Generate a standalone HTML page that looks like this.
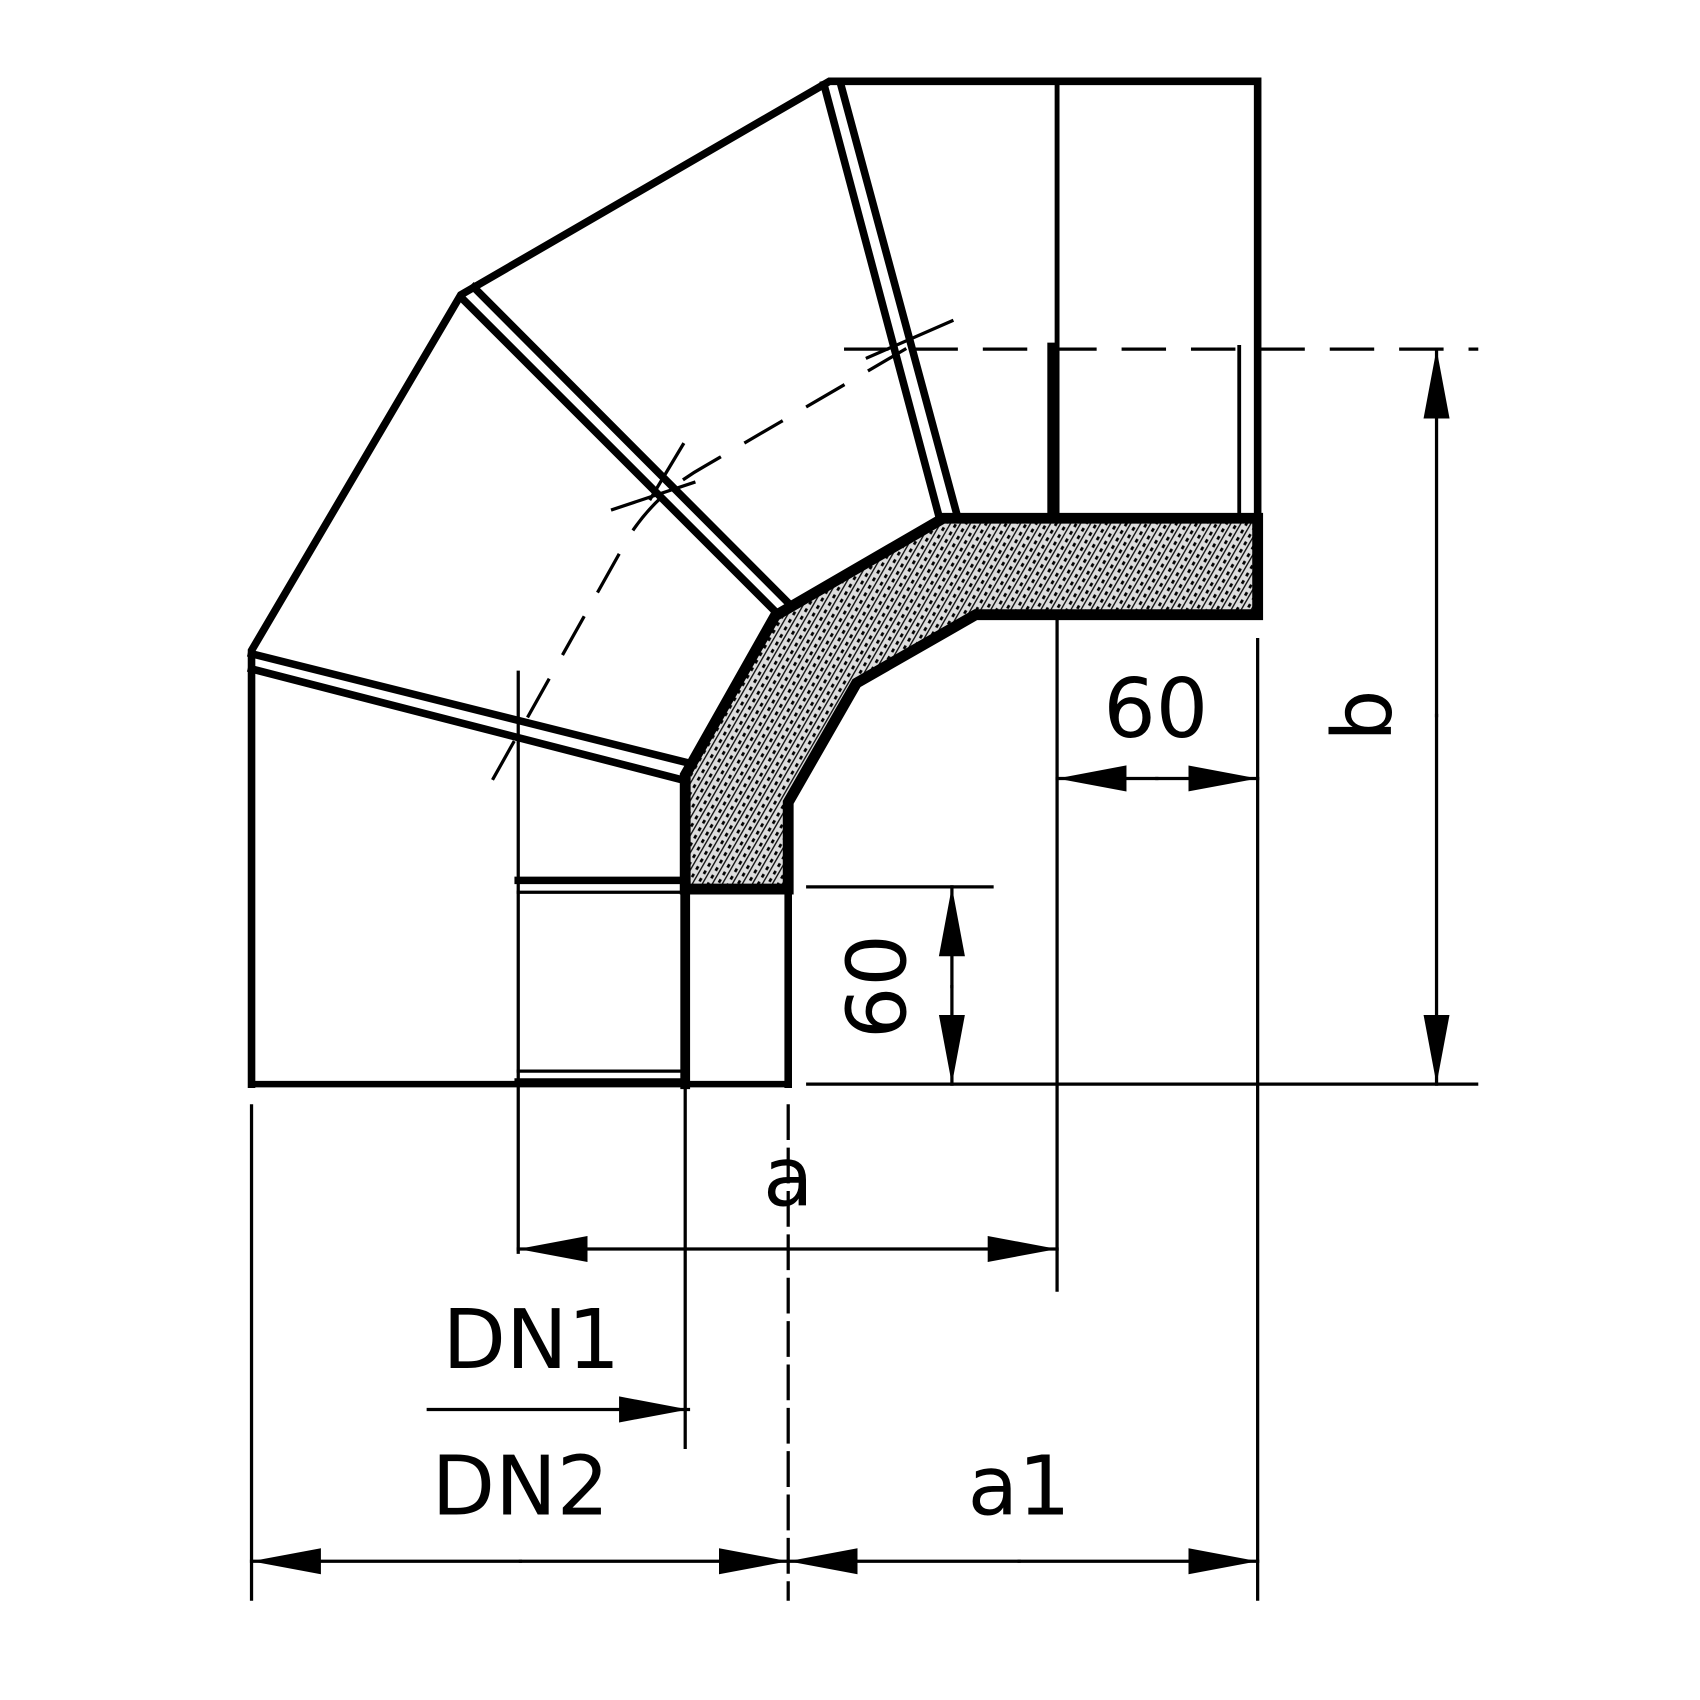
<!DOCTYPE html>
<html><head><style>html,body{margin:0;padding:0;background:#fff}svg{display:block}</style></head>
<body>
<svg width="1700" height="1700" viewBox="0 0 1568 1568" xmlns="http://www.w3.org/2000/svg">
<defs>
<pattern id="h" width="8" height="8" patternUnits="userSpaceOnUse" patternTransform="rotate(30)">
<rect width="8" height="8" fill="#ddd"/>
<line x1="0" y1="0" x2="0" y2="8" stroke="#111" stroke-width="2.5"/>
<rect x="4" y="2" width="2.5" height="3.5" fill="#000"/>
</pattern>
<marker id="ar" markerWidth="66" markerHeight="30" refX="64" refY="15" orient="auto" markerUnits="userSpaceOnUse">
<path d="M0,3 L64,15 L0,27 Z" fill="#000"/></marker>
</defs>
<g fill="none" stroke="#000" stroke-linecap="square">
<path d="M632,820 L632,715 L715,568 L870,478 L1160,478 L1160,567 L900,567 L790,630 L727,740 L727,820 Z" fill="url(#h)" stroke-width="10"/>
<path d="M232,1000 L232,600 L425,272 L765,75 L1160,75 L1160,478" stroke-width="7"/>
<line x1="232" y1="1000" x2="727" y2="1000" stroke-width="6"/>
<line x1="975" y1="75" x2="975" y2="478" stroke-width="4.5"/>
<line x1="232" y1="603" x2="632" y2="703" stroke-width="7"/>
<line x1="232" y1="617" x2="632" y2="720" stroke-width="7"/>
<line x1="425" y1="274" x2="714" y2="563" stroke-width="7"/>
<line x1="437" y1="265" x2="726" y2="555" stroke-width="7"/>
<line x1="760" y1="78" x2="866" y2="476" stroke-width="7"/>
<line x1="775" y1="76" x2="883" y2="476" stroke-width="7"/>
<line x1="632" y1="820" x2="632" y2="1000" stroke-width="9"/>
<line x1="727" y1="820" x2="727" y2="1000" stroke-width="7"/>
<line x1="478" y1="812" x2="632" y2="812" stroke-width="7"/>
<line x1="478" y1="823" x2="632" y2="823" stroke-width="3"/>
<line x1="478" y1="988" x2="632" y2="988" stroke-width="3"/>
<line x1="478" y1="998" x2="632" y2="998" stroke-width="7"/>
<line x1="970" y1="320" x2="970" y2="478" stroke-width="8"/>
<line x1="1143" y1="320" x2="1143" y2="478" stroke-width="3.5"/>
<path d="M455,718 L580,495 Q605,455 650,430 L835,322" stroke-width="3" stroke-dasharray="38,28"/>
<line x1="780" y1="322" x2="1362" y2="322" stroke-width="3" stroke-dasharray="38,26"/>
<line x1="478" y1="620" x2="478" y2="1155" stroke-width="3"/>
<line x1="565" y1="470" x2="640" y2="445" stroke-width="3"/>
<line x1="600" y1="460" x2="630" y2="410" stroke-width="3"/>
<line x1="800" y1="330" x2="878" y2="296" stroke-width="3"/>
<g stroke-width="3">
<line x1="745" y1="1000" x2="1362" y2="1000"/>
<line x1="745" y1="818" x2="915" y2="818"/>
<line x1="975" y1="570" x2="975" y2="1190"/>
<line x1="1160" y1="590" x2="1160" y2="1475"/>
<line x1="232" y1="1020" x2="232" y2="1475"/>
<line x1="727" y1="1020" x2="727" y2="1475" stroke-dasharray="30,10"/>
<line x1="632" y1="1000" x2="632" y2="1335"/>
<line x1="1325" y1="660" x2="1325" y2="322" marker-end="url(#ar)"/>
<line x1="1325" y1="660" x2="1325" y2="1000" marker-end="url(#ar)"/>
<line x1="878" y1="910" x2="878" y2="818" marker-end="url(#ar)"/>
<line x1="878" y1="910" x2="878" y2="1000" marker-end="url(#ar)"/>
<line x1="1067" y1="718" x2="975" y2="718" marker-end="url(#ar)"/>
<line x1="1067" y1="718" x2="1160" y2="718" marker-end="url(#ar)"/>
<line x1="727" y1="1152" x2="478" y2="1152" marker-end="url(#ar)"/>
<line x1="727" y1="1152" x2="975" y2="1152" marker-end="url(#ar)"/>
<line x1="395" y1="1300" x2="635" y2="1300" marker-end="url(#ar)"/>
<line x1="480" y1="1440" x2="232" y2="1440" marker-end="url(#ar)"/>
<line x1="480" y1="1440" x2="727" y2="1440" marker-end="url(#ar)"/>
<line x1="940" y1="1440" x2="727" y2="1440" marker-end="url(#ar)"/>
<line x1="940" y1="1440" x2="1160" y2="1440" marker-end="url(#ar)"/>
</g>
</g>
<g font-family="'DejaVu Sans','Liberation Sans',sans-serif" font-size="76" fill="#000" text-anchor="middle">
<text x="1066" y="680">60</text>
<text x="727" y="1112">a</text>
<text x="490" y="1262">DN1</text>
<text x="480" y="1397">DN2</text>
<text x="940" y="1397">a1</text>
<text transform="translate(835,910) rotate(-90)">60</text>
<text transform="translate(1283,660) rotate(-90)">b</text>
</g>
</svg>
</body></html>
